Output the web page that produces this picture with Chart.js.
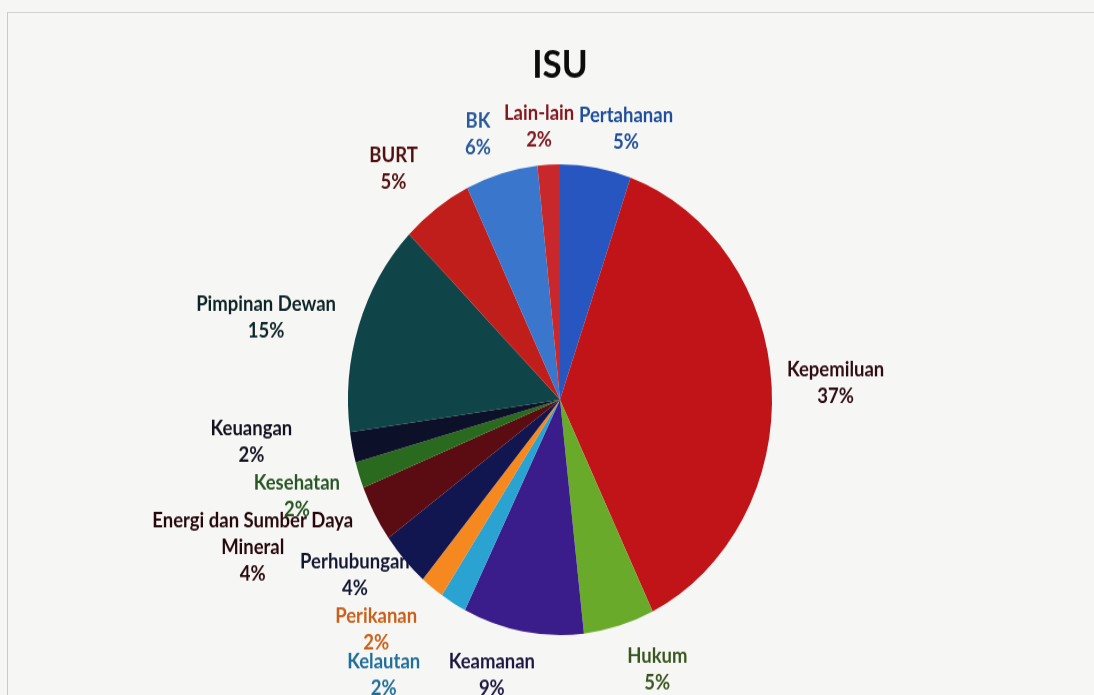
<!DOCTYPE html>
<html>
<head>
<meta charset="utf-8">
<script src="https://cdn.jsdelivr.net/npm/chart.js@4/dist/chart.umd.min.js"></script>
<style>
  html, body { margin: 0; padding: 0; background: #f6f6f4; overflow: hidden; }
  #frame {
    position: absolute; left: 7px; top: 12px; width: 1087px; height: 683px;
    border-left: 1px solid #c9c9c9; border-top: 1px solid #d2d2d2;
  }
  #pie {
    position: absolute; left: 0; top: 0;
    transform: scaleY(1.1102); transform-origin: 0 0;
  }
</style>
</head>
<body>
<div id="frame"></div>
<canvas id="pie" width="1094" height="626"></canvas>
<script>
// slices clockwise from 12 o'clock
const categories = ['Pertahanan', 'Kepemiluan', 'Hukum', 'Keamanan', 'Kelautan', 'Perikanan',
    'Perhubungan', 'Energi dan Sumber Daya\nMineral', 'Kesehatan', 'Keuangan',
    'Pimpinan Dewan', 'BURT', 'BK', 'Lain-lain'];
const shares = [5.4, 37.4, 5.4, 9.2, 2.0, 1.8, 3.8, 3.9, 1.8, 2.1, 14.6, 5.4, 5.5, 1.7];

const sliceColors = ['#2856c0', '#c01418', '#6aaa2a', '#3a1c8a', '#2aa2d2', '#f5891f',
    '#121650', '#5a0c12', '#2a6a1e', '#0c1028', '#0f4548', '#c01e1a', '#3a76cc', '#c8282c'];
const labelColors = ['#1f4e9a', '#2e0c12', '#3a5620', '#1e1640', '#1f6f9a', '#c8601a',
    '#121632', '#26080c', '#285622', '#121220', '#0c2426', '#501010', '#2a5a9a', '#821820'];

// where each label sits: angle shift from slice middle (deg) and distance from centre (px)
const labelShift = [5.4, 0.2, -5.6, 5.3, 5.2, 4.5, 5.2, 5.5, 0.5, 4.6, -4.3, -3.1, -2.9, -1.8];
const labelDist = [253, 276, 262, 257, 304, 277, 259, 335, 277, 311, 303, 266, 253, 247];

const pieLabels = {
    id: 'pieLabels',
    beforeDatasetsDraw(chart) {
        const ctx = chart.ctx;
        const meta = chart.getDatasetMeta(0);
        const total = shares.reduce((a, b) => a + b, 0);
        const lh = 24;
        ctx.save();
        ctx.font = 'bold 18.5px Lato';
        ctx.textAlign = 'center';
        ctx.textBaseline = 'middle';
        meta.data.forEach((arc, i) => {
            const p = arc.getProps(['x', 'y', 'startAngle', 'endAngle'], true);
            const a = (p.startAngle + p.endAngle) / 2 + labelShift[i] * Math.PI / 180;
            const cx = p.x + Math.cos(a) * labelDist[i];
            const cy = p.y + Math.sin(a) * labelDist[i];
            const lines = categories[i].split('\n');
            lines.push(Math.round(shares[i] / total * 100) + '%');
            ctx.fillStyle = labelColors[i];
            let y = cy - (lines.length - 1) * lh / 2;
            lines.forEach(t => {
                ctx.fillText(t, cx, y);
                y += lh;
            });
        });
        ctx.restore();
    }
};

const ctx = document.getElementById('pie').getContext('2d');
new Chart(ctx, {
    type: 'pie',
    data: {
        labels: categories,
        datasets: [{
            data: shares,
            backgroundColor: sliceColors,
            borderWidth: 0
        }]
    },
    options: {
        responsive: false,
        maintainAspectRatio: false,
        devicePixelRatio: 1,
        animation: false,
        layout: {
            padding: { left: 26, right: 0, top: 0, bottom: 54 }
        },
        plugins: {
            legend: { display: false },
            tooltip: { enabled: false },
            title: {
                display: true,
                text: 'ISU',
                color: '#0c0c0c',
                font: { family: 'Lato', size: 35, weight: 'bold' },
                padding: { top: 38, bottom: 68 }
            }
        }
    },
    plugins: [pieLabels]
});
</script>
</body>
</html>
